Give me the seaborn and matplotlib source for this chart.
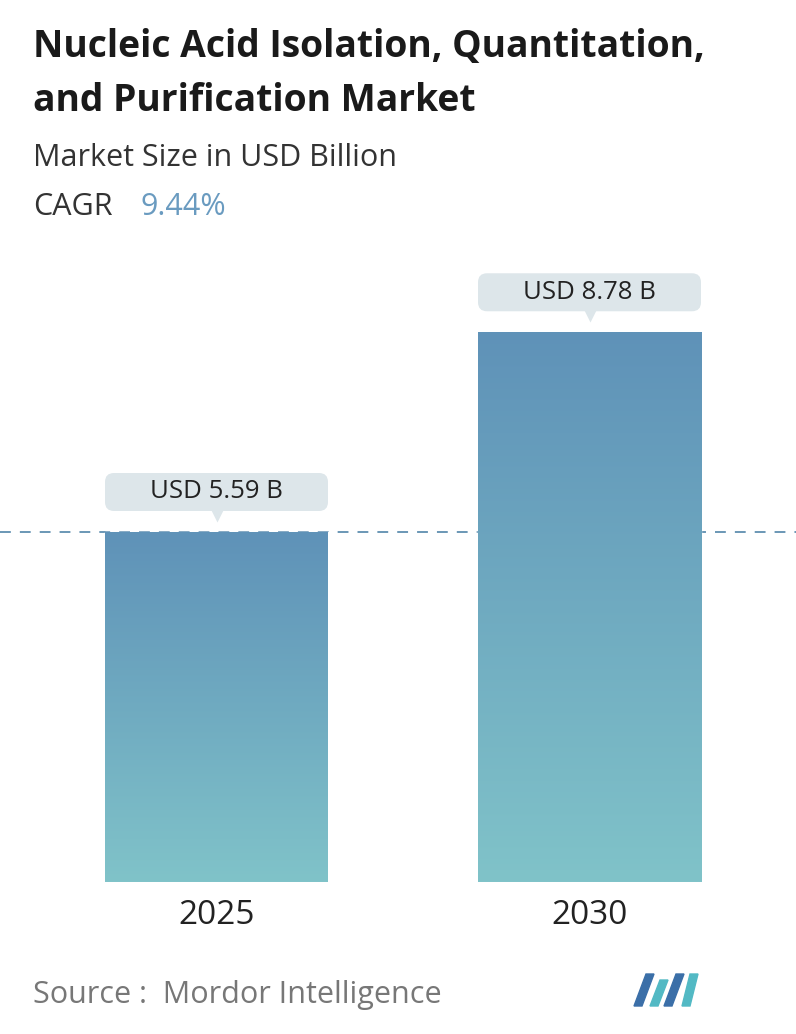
import numpy as np
import matplotlib
matplotlib.use("Agg")
import matplotlib.pyplot as plt
import seaborn as sns
from matplotlib.patches import Polygon, FancyBboxPatch
from matplotlib.colors import LinearSegmentedColormap

years = ["2025", "2030"]
values = [5.59, 8.78]
labels = ["USD 5.59 B", "USD 8.78 B"]

sns.set_theme(style="white")
plt.rcParams['font.family'] = ['Open Sans', 'DejaVu Sans']

W, H = 796, 1034
fig = plt.figure(figsize=(W/100, H/100), dpi=100)
ax = fig.add_axes([0, 1-882/H, 1, (882-260)/H])
unit = 350/5.59
ax.set_ylim(0, (882-260)/unit)
ax.axis("off")

bw = 223/373
sns.barplot(x=list(range(len(years))), y=values, ax=ax, width=bw, color="none", native_scale=True, zorder=3)
grad = np.linspace(0, 1, 256).reshape(-1, 1)
cmap = LinearSegmentedColormap.from_list("g", ["#80c3c9", "#5f92b8"])
for p in ax.patches[:]:
    x0, w, h = p.get_x(), p.get_width(), p.get_height()
    im = ax.imshow(grad, extent=[x0, x0+w, 0, h], origin="lower", aspect="auto", cmap=cmap, zorder=3)
    im.set_clip_path(p)
ax.set_xlim(-216.5/373, 1+(796-589.5)/373)
ax.set_ylim(0, (882-260)/unit)
ax.axhline(values[0], color="#5f8fb0", lw=1.3, ls=(0, (6, 5)), zorder=1)

for i, (v, lab) in enumerate(zip(values, labels)):
    yc = v + 40/unit
    bh = 38/unit
    ax.add_patch(FancyBboxPatch((i - bw/2, yc - bh/2), bw, bh,
                                boxstyle="round,pad=0,rounding_size=%f" % (9/373), mutation_aspect=373/unit,
                                fc="#dde6ea", ec="none", zorder=4))
    ax.text(i, yc, lab, ha="center", va="center", fontsize=18.5, color="#222222", zorder=5)
    ax.plot([i], [v + 17/unit], marker="v", ms=10, color="#dde6ea", zorder=4, mec="none")
    ax.text(i, -33/unit, years[i], ha="center", va="center", fontsize=24, color="#222222")

fig.text(33/W, 1-47/H, "Nucleic Acid Isolation, Quantitation,", fontsize=26.8, fontweight="bold", color="#1a1a1a", va="center")
fig.text(33/W, 1-101/H, "and Purification Market", fontsize=26.8, fontweight="bold", color="#1a1a1a", va="center")
fig.text(33/W, 1-158/H, "Market Size in USD Billion", fontsize=22, color="#333333", va="center")
fig.text(33/W, 1-207/H, "CAGR", fontsize=22, color="#333333", va="center")
fig.text(140/W, 1-207/H, "9.44%", fontsize=22, color="#6a9bc0", va="center")
fig.text(33/W, 1-995/H, "Source :  Mordor Intelligence", fontsize=22, color="#777777", va="center")

la = fig.add_axes([630/W, 1-1008/H, 72/W, 36/H]); la.axis("off")
la.set_xlim(0, 72); la.set_ylim(0, 36)
la.add_patch(Polygon([[4,2],[16,34],[24,34],[12,2]], color="#3b6fa8"))
la.add_patch(Polygon([[20,2],[30,28],[38,28],[28,2]], color="#52b9c4"))
la.add_patch(Polygon([[34,2],[46,34],[54,34],[42,2]], color="#3b6fa8"))
la.add_patch(Polygon([[52,2],[60,34],[68,34],[60,2]], color="#52b9c4"))

fig.savefig("out.png", dpi=100)
